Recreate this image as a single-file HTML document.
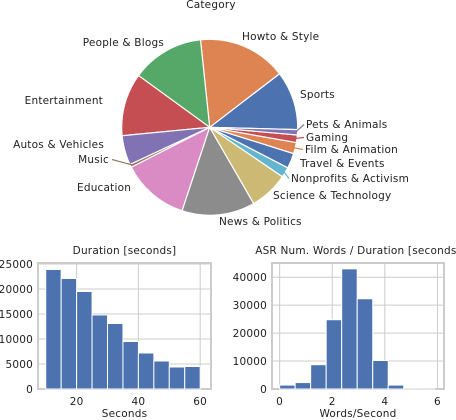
<!DOCTYPE html>
<html><head><meta charset="utf-8"><style>
html,body{margin:0;padding:0;background:#fff;width:456px;height:420px;overflow:hidden}
svg{display:block;font-family:"DejaVu Sans","Liberation Sans",sans-serif;font-size:10.5px;letter-spacing:0.2px;fill:#222}
</style></head><body>
<svg id="chart" width="456" height="420" viewBox="0 0 456 420">
<text x="211" y="8" text-anchor="middle">Category</text>
<g id="pie"></g>
<g id="h1"></g>
<g id="h2"></g>
</svg>
<script>
const NS="http://www.w3.org/2000/svg";
const pieCats=["Sports","Howto & Style","People & Blogs","Entertainment","Autos & Vehicles","Music","Education","News & Politics","Science & Technology","Nonprofits & Activism","Travel & Events","Film & Animation","Gaming","Pets & Animals"];
const pieVals=[39,58.5,48,41.5,19.5,2,44.7,48.3,25.8,6.8,10,7.4,5,3.5];
const pieColors=["#4C72B0","#DD8452","#55A868","#C44E52","#8172B3","#937860","#DA8BC3","#8C8C8C","#CCB974","#64B5CD","#4C72B0","#DD8452","#C44E52","#8172B3"];
const pieLabelPos=[[300,98,"start"],[242,40,"start"],[164,46,"end"],[103,104,"end"],[104,148,"end"],[109,163,"end"],[77,191,"start"],[219,225,"start"],[273,199,"start"],[291,182,"start"],[300,167,"start"],[305,153,"start"],[306,141,"start"],[306,128,"start"]];
const durBins=[10,15,20,25,30,35,40,45,50,55,60];
const durVals=[23900,22100,19500,14800,13100,9500,7200,5600,4400,4500];
const durXTicks=[20,40,60];
const durYTicks=[0,5000,10000,15000,20000,25000];
const wpsBins=[0,0.59,1.18,1.77,2.36,2.95,3.54,4.13,4.72,5.31,5.9];
const wpsVals=[1400,2300,8700,24800,43000,32300,10200,1400,50,20];
const wpsXTicks=[0,2,4,6];
const wpsYTicks=[0,10000,20000,30000,40000];

function mk(tag,attrs,parent){const e=document.createElementNS(NS,tag);for(const k in attrs)e.setAttribute(k,attrs[k]);parent.appendChild(e);return e;}

const pie=document.getElementById('pie');
const cx=209.7,cy=127.3,R=88;
const total=pieVals.reduce((a,b)=>a+b,0);
let ang=-1.5*Math.PI/180;
pieVals.forEach((v,i)=>{
  const a0=ang,a1=ang+v/total*2*Math.PI;ang=a1;
  const x0=cx+R*Math.cos(a0),y0=cy-R*Math.sin(a0),x1=cx+R*Math.cos(a1),y1=cy-R*Math.sin(a1);
  const large=(a1-a0)>Math.PI?1:0;
  const p=mk('path',{d:`M${cx},${cy}L${x0},${y0}A${R},${R} 0 ${large} 0 ${x1},${y1}Z`,fill:pieColors[i],stroke:'#fff','stroke-width':1.2},pie);
  
  
  const lp=pieLabelPos[i];
  const t=mk('text',{x:lp[0],y:lp[1],'text-anchor':lp[2]},pie);t.textContent=pieCats[i];
  
  
  const frac=v/total;
  if(frac<0.025){
    const am=(a0+a1)/2;
    const ex=cx+(R-2)*Math.cos(am),ey=cy-(R-2)*Math.sin(am);
    const tx=lp[2]=="end"?lp[0]+3:lp[0]-2,ty=lp[1]-3.5;
    const l=mk('polyline',{points:`${ex},${ey} ${tx},${ty}`,fill:'none',stroke:pieColors[i],'stroke-width':1.2},pie);
    
    
  }
});

function hist(g,box,xr,yr,bins,vals,xt,yt,title,xlabel){
  const [L,T,Rr,B]=box;
  const sx=v=>L+(v-xr[0])/(xr[1]-xr[0])*(Rr-L);
  const sy=v=>B-(v-yr[0])/(yr[1]-yr[0])*(B-T);
  const bg=mk('rect',{x:L,y:T,width:Rr-L,height:B-T,fill:'#fff',stroke:'#ccc','stroke-width':2},g);
  
  
  xt.forEach(v=>{const l=mk('line',{x1:sx(v),x2:sx(v),y1:T,y2:B,stroke:'#ccc','stroke-width':1},g);
    
    
    const t=mk('text',{x:sx(v),y:B+16,'text-anchor':'middle'},g);t.textContent=v;
    
    });
  yt.forEach(v=>{const l=mk('line',{x1:L,x2:Rr,y1:sy(v),y2:sy(v),stroke:'#ccc','stroke-width':1},g);
    
    
    const t=mk('text',{x:L-5,y:sy(v)+4,'text-anchor':'end'},g);t.textContent=v;
    
    });
  vals.forEach((v,i)=>{const r=mk('rect',{x:sx(bins[i]),y:sy(v),width:sx(bins[i+1])-sx(bins[i]),height:sy(0)-sy(v),fill:'#4C72B0',stroke:'#fff','stroke-width':1},g);
    
    });
  const tt=mk('text',{x:(L+Rr)/2,y:T-9,'text-anchor':'middle'},g);tt.textContent=title;
  
  
  const xl=mk('text',{x:(L+Rr)/2,y:B+28,'text-anchor':'middle'},g);xl.textContent=xlabel;
  
  
}
hist(document.getElementById('h1'),[38,263,211,389],[7.5,63.5],[0,25200],durBins,durVals,durXTicks,durYTicks,"Duration [seconds]","Seconds");
hist(document.getElementById('h2'),[272,263,444,389],[-0.29,6.25],[0,45100],wpsBins,wpsVals,wpsXTicks,wpsYTicks,"ASR Num. Words / Duration [seconds]","Words/Second");
</script>
</body></html>
